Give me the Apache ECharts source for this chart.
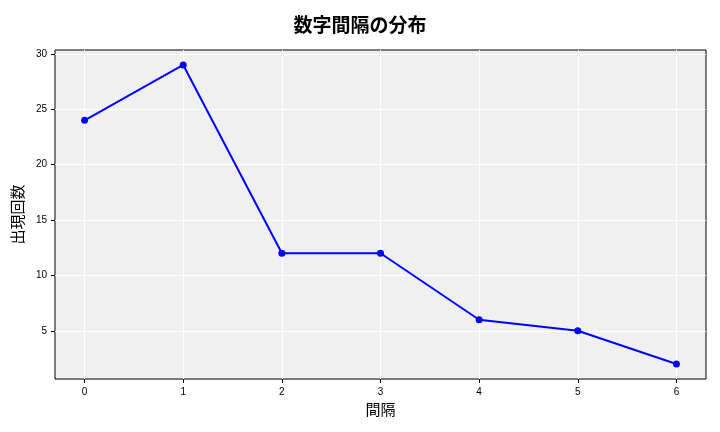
<!DOCTYPE html>
<html>
<head>
<meta charset="utf-8">
<script src="https://cdn.jsdelivr.net/npm/echarts@6/dist/echarts.min.js"></script>
<style>body{margin:0}#c{width:720px;height:432px}</style>
</head>
<body>
<div id="c"></div>
<script>
var gaps = [0, 1, 2, 3, 4, 5, 6];
var counts = [24, 29, 12, 12, 6, 5, 2];
var yTicks = [5, 10, 15, 20, 25, 30];

var font = '"Noto Sans CJK JP", sans-serif';
var chart = echarts.init(document.getElementById('c'));
chart.setOption({
  title: {text: '数字間隔の分布', left: 'center', top: 10,
    textStyle: {fontFamily: font, fontSize: 19, fontWeight: 'bold', color: '#000'}},
  grid: {left: 55, right: 14, top: 50, bottom: 53, show: true,
    backgroundColor: '#f0f0f0', borderColor: '#000', borderWidth: 1},
  xAxis: {type: 'value', min: -0.3, max: 6.3,
    name: '間隔', nameLocation: 'middle', nameGap: 22,
    nameTextStyle: {fontFamily: font, fontSize: 15, color: '#000'},
    axisLine: {show: false, onZero: false},
    axisTick: {show: true, customValues: gaps, length: 4, lineStyle: {color: '#000'}},
    axisLabel: {customValues: gaps, fontSize: 10, color: '#000', margin: 8},
    splitLine: {show: true, lineStyle: {color: '#fff', width: 1}}},
  yAxis: {type: 'value', min: 0.65, max: 30.35,
    name: '出現回数', nameLocation: 'middle', nameGap: 28,
    nameTextStyle: {fontFamily: font, fontSize: 15, color: '#000'},
    axisLine: {show: false, onZero: false},
    axisTick: {show: true, customValues: yTicks, length: 4, lineStyle: {color: '#000'}},
    axisLabel: {customValues: yTicks, fontSize: 10, color: '#000', margin: 8},
    splitLine: {show: true, lineStyle: {color: '#fff', width: 1}}},
  series: [{type: 'line', data: gaps.map(function (g, i) { return [g, counts[i]]; }),
    symbol: 'circle', symbolSize: 7, color: '#0000ff',
    lineStyle: {width: 2, color: '#0000ff'}, itemStyle: {color: '#0000ff'}}],
  animation: false
});
</script>
</body>
</html>
